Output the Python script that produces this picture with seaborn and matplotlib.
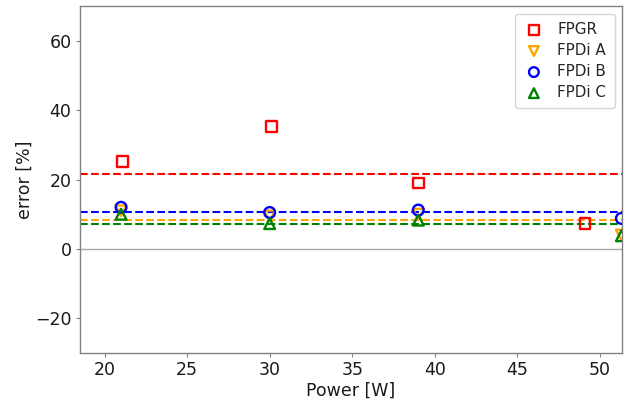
import matplotlib
matplotlib.use("Agg")
import matplotlib.pyplot as plt
import seaborn as sns
import pandas as pd

# ---------------------------------------------------
# Data
# ---------------------------------------------------

power_fpgr = [21.1, 30.1, 39.0, 49.1]
error_fpgr = [25.2, 35.2, 19.0, 7.3]

power_a = [21.0, 30.0, 39.0, 51.3]
error_a = [11.0, 9.5, 10.0, 4.0]

power_b = [21.0, 30.0, 39.0, 51.3]
error_b = [12.0, 10.5, 11.2, 8.8]

power_c = [21.0, 30.0, 39.0, 51.3]
error_c = [10.0, 7.3, 8.3, 3.8]

# mean error lines
mean_fpgr = 21.5
mean_a = 8.3
mean_b = 10.6
mean_c = 7.3

series = [
    ("FPGR", power_fpgr, error_fpgr, "s", "red", mean_fpgr),
    ("FPDi A", power_a, error_a, "v", "orange", mean_a),
    ("FPDi B", power_b, error_b, "o", "blue", mean_b),
    ("FPDi C", power_c, error_c, "^", "green", mean_c),
]

# ---------------------------------------------------
# Plot
# ---------------------------------------------------

sns.set_style("white")
plt.rcParams["font.family"] = ["DejaVu Sans"]

fig = plt.figure(figsize=(6.33, 4.03), dpi=100)
ax = fig.add_axes([0.126, 0.124, 0.857, 0.861])

ax.axhline(0, color="darkgray", linewidth=1)

for label, x, y, marker, color, mean in series:
    df = pd.DataFrame({"power": x, "error": y})
    ax.axhline(mean, color=color, linestyle="--", linewidth=1.5)
    sns.scatterplot(
        data=df, x="power", y="error", ax=ax,
        marker=marker, s=60, fc="none", ec=color,
        linewidth=1.7, label=label, zorder=3,
    )

ax.set_xlim(18.5, 51.35)
ax.set_ylim(-30, 70)
ax.set_xticks([20, 25, 30, 35, 40, 45, 50])
ax.set_yticks([-20, 0, 20, 40, 60])

ax.set_xlabel("Power [W]", fontsize=12.5, labelpad=2, color="#1a1a1a")
ax.set_ylabel("error [%]", fontsize=12.5, labelpad=0.5, color="#1a1a1a")
ax.tick_params(axis="both", labelsize=12.5, left=True, bottom=True,
               length=3, color="gray", pad=3, labelcolor="#1a1a1a")

for spine in ax.spines.values():
    spine.set_color("gray")
    spine.set_linewidth(1.0)

ax.legend(loc="upper right", fontsize=10.9, handletextpad=0.85,
          handlelength=1.4, borderpad=0.55, labelspacing=0.4,
          markerscale=0.9)

fig.savefig("out.png", dpi=100)
plt.close(fig)
